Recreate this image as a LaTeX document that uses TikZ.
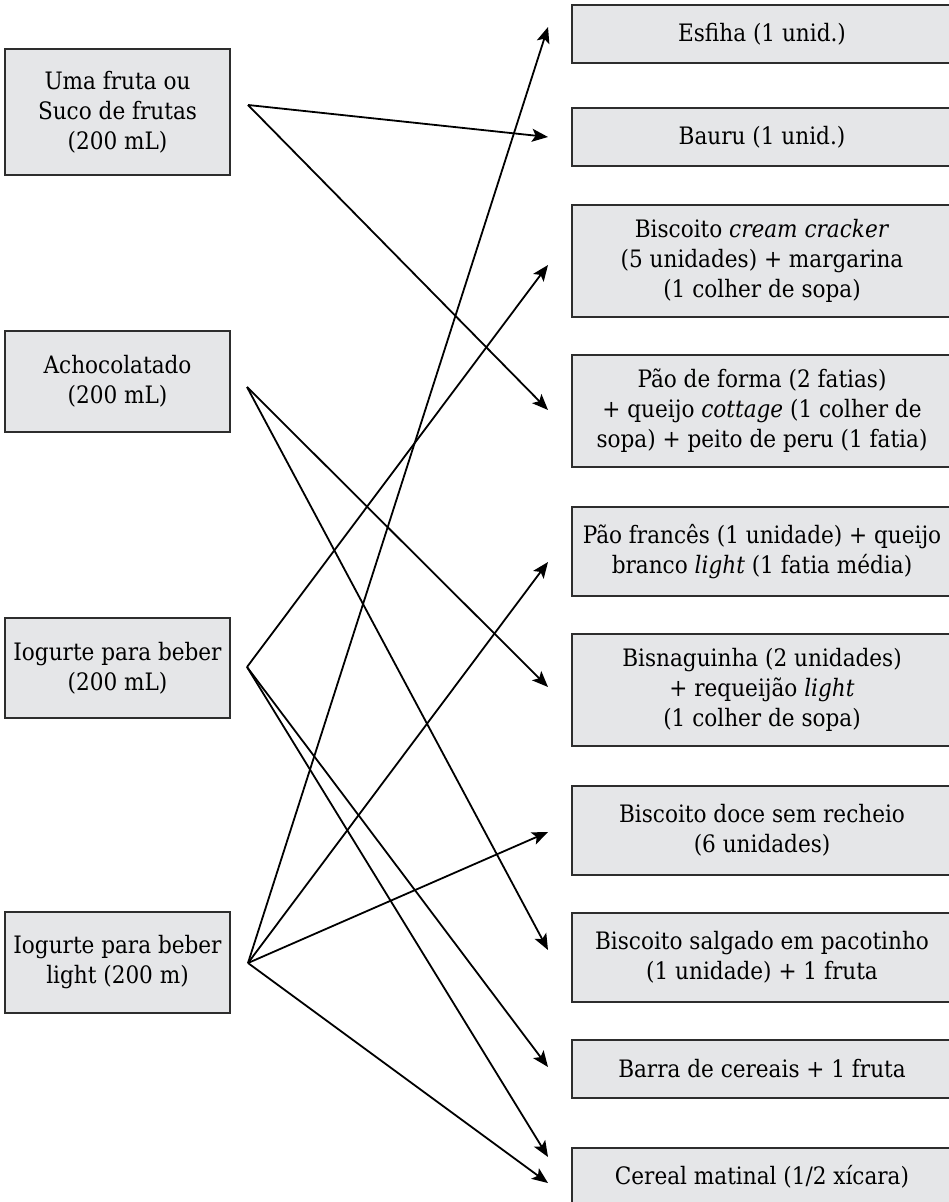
\documentclass[tikz,border=0pt]{standalone}
\usepackage{fontspec}
\setmainfont{DejaVu Serif Condensed}
\usetikzlibrary{arrows.meta}
\definecolor{boxgray}{RGB}{229,230,232}
\definecolor{edgegray}{RGB}{45,45,45}
\tikzset{
    food/.style={draw=edgegray, fill=boxgray, line width=1pt, align=center, inner sep=0pt, font=\fontsize{12}{15}\selectfont},
    drink/.style={food, minimum width=112.5pt},
    snack/.style={food, minimum width=190pt},
    link/.style={line width=0.9pt, -{Stealth[length=8pt,width=6.5pt,inset=1.8pt]}}
}
\begin{document}
\begin{tikzpicture}[x=0.5pt, y=-0.5pt]
    \useasboundingbox (0, 0) rectangle (948, 1202);
    \node[drink, minimum height=63pt] (fruta) at (117.5, 112) {Uma fruta ou\\Suco de frutas\\(200 mL)};
    \node[drink, minimum height=50.5pt] (acho) at (117.5, 381.5) {Achocolatado\\(200 mL)};
    \node[drink, minimum height=50pt] (iog) at (117.5, 668) {Iogurte para beber\\(200 mL)};
    \node[drink, minimum height=50.5pt] (light) at (117.5, 962.5) {Iogurte para beber\\light (200 m)};
    \node[snack, minimum height=29pt] (esfiha) at (762, 34) {Esfiha (1 unid.)};
    \node[snack, minimum height=29pt] (bauru) at (762, 137) {Bauru (1 unid.)};
    \node[snack, minimum height=56pt] (cream) at (762, 261) {Biscoito \textit{cream cracker}\\(5 unidades) + margarina\\(1 colher de sopa)};
    \node[snack, minimum height=56pt] (forma) at (762, 411) {Pão de forma (2 fatias)\\+ queijo \textit{cottage} (1 colher de\\sopa) + peito de peru (1 fatia)};
    \node[snack, minimum height=44.5pt] (frances) at (762, 551.5) {Pão francês (1 unidade) + queijo\\branco \textit{light} (1 fatia média)};
    \node[snack, minimum height=56pt] (bisna) at (762, 690) {Bisnaguinha (2 unidades)\\+ requeijão \textit{light}\\(1 colher de sopa)};
    \node[snack, minimum height=44.5pt] (doce) at (762, 830) {Biscoito doce sem recheio\\(6 unidades)};
    \node[snack, minimum height=44.5pt] (salgado) at (762, 957) {Biscoito salgado em pacotinho\\(1 unidade) + 1 fruta};
    \node[snack, minimum height=29pt] (barra) at (762, 1069) {Barra de cereais + 1 fruta};
    \node[snack, minimum height=29pt] (cereal) at (762, 1177) {Cereal matinal (1/2 xícara)};
    \coordinate (fruta-o) at (248, 105);
    \coordinate (acho-o) at (247, 387);
    \coordinate (iog-o) at (247, 667);
    \coordinate (light-o) at (248, 963);
    \coordinate (esfiha-i) at (548, 27);
    \coordinate (bauru-i) at (548, 137);
    \coordinate (cream-i) at (548, 265);
    \coordinate (forma-i) at (548, 410);
    \coordinate (frances-i) at (548, 562);
    \coordinate (bisna-i) at (548, 687);
    \coordinate (doce-i) at (548, 832);
    \coordinate (salgado-i) at (548, 950);
    \coordinate (barra-i) at (548, 1067);
    \coordinate (cereal-i) at (548, 1157);
    \coordinate (cereal-j) at (548, 1183);
    \draw[link] (fruta-o) -- (bauru-i);
    \draw[link] (fruta-o) -- (forma-i);
    \draw[link] (acho-o) -- (bisna-i);
    \draw[link] (acho-o) -- (salgado-i);
    \draw[link] (iog-o) -- (cream-i);
    \draw[link] (iog-o) -- (barra-i);
    \draw[link] (iog-o) -- (cereal-i);
    \draw[link] (light-o) -- (esfiha-i);
    \draw[link] (light-o) -- (frances-i);
    \draw[link] (light-o) -- (doce-i);
    \draw[link] (light-o) -- (cereal-j);
\end{tikzpicture}
\end{document}
